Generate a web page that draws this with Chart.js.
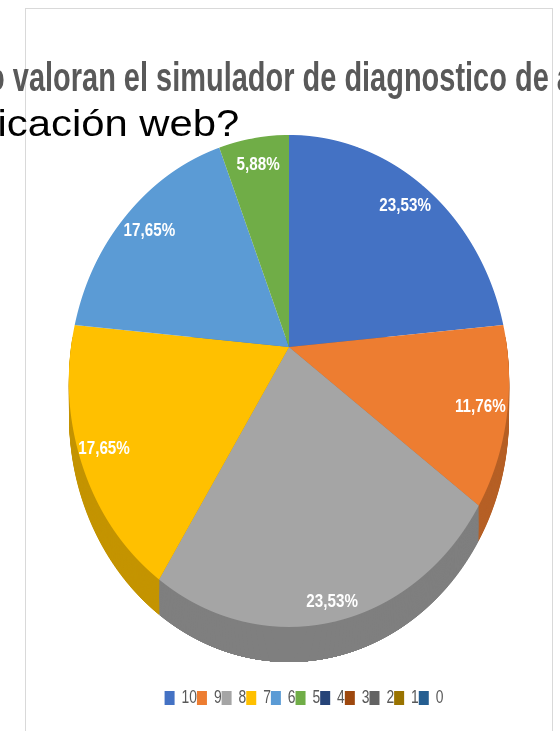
<!DOCTYPE html>
<html lang="es">
<head>
<meta charset="utf-8">
<title>Valoración del simulador</title>
<script src="https://cdn.jsdelivr.net/npm/chart.js@4.4.1/dist/chart.umd.min.js"></script>
<style>
  html, body { margin: 0; padding: 0; background: #fff; }
  body { width: 560px; height: 731px; position: relative; overflow: hidden; }
  #frame { position: absolute; left: 25px; top: 8px; width: 526px; height: 800px; border: 1px solid #d9d9d9; }
  #chart { position: absolute; left: 0; top: 0; }
  .t1 { position: absolute; top: 57px; left: 0; white-space: nowrap; color: #595959;
        font: bold 40px/40px "Liberation Sans", Arial, sans-serif;
        transform-origin: 0 0; }
  .t2 { position: absolute; top: 105px; right: 321px; white-space: nowrap; color: #000;
        font: 37px/38px "Liberation Sans", Arial, sans-serif;
        transform-origin: 100% 0; transform: scaleX(1.13); }
</style>
</head>
<body>
<div id="frame"></div>
<canvas id="chart" width="560" height="731"></canvas>
<div class="t1" id="title1"><span id="title1pre">¿Cómo </span><span id="title1main">valoran el simulador de diagnostico de </span>a</div>
<div class="t2">aplicación web?</div>
<script>
// Datos del gráfico
const categories = ['10', '9', '8', '7', '6', '5', '4', '3', '2', '1', '0'];
const shares = [23.53, 11.76, 23.53, 17.65, 17.65, 5.88, 0, 0, 0, 0, 0];
const sliceColors = ['#4472C4', '#ED7D31', '#A5A5A5', '#FFC000', '#5B9BD5', '#70AD47',
                     '#264478', '#9E480E', '#636363', '#997300', '#255E91'];

// Vista 3D: disco inclinado con perspectiva (X = a·u/(1-k·v), Y = b·v/(1-k·v))
const view = { cx: 289, cy: 347, a: 218, b: 241.3, k: 0.138, depth: 36 };
const legendSqueeze = 0.77; // el original usa una fuente estrecha

function darken(hex, f) {
  const n = parseInt(hex.slice(1), 16);
  const r = Math.round(((n >> 16) & 255) * f);
  const g = Math.round(((n >> 8) & 255) * f);
  const b = Math.round((n & 255) * f);
  return `rgb(${r},${g},${b})`;
}

function rowToV(Y) {
  return Y / (view.b + view.k * Y);
}

// Dibuja una franja horizontal de 1px del pastel; con "extrude" la franja se alarga hacia abajo (pared)
function drawStrip(chart, arcs, Y, extrude) {
  const ctx = chart.ctx;
  const first = arcs[0];
  const r0 = first.outerRadius;
  const v0 = rowToV(Y);
  const w = 1 - view.k * v0;
  const sx = view.a / w;
  let sy = view.b / (w * w);
  let h = 1;
  if (extrude) { h = view.depth + 1; sy *= h; }
  ctx.save();
  ctx.beginPath();
  ctx.rect(0, view.cy + Y, chart.width, h);
  ctx.clip();
  ctx.translate(view.cx, view.cy + Y);
  ctx.scale(sx / r0, sy / r0);
  ctx.translate(-first.x, -(first.y + v0 * r0));
  arcs.forEach((arc, i) => {
    if (!shares[i]) return;
    if (extrude) {
      const proxy = Object.create(arc);
      proxy.options = Object.assign({}, arc.options, { backgroundColor: darken(sliceColors[i], 0.77) });
      arc.draw.call(proxy, ctx);
    } else {
      arc.draw(ctx);
    }
  });
  ctx.restore();
}

const pie3d = {
  id: 'pie3d',
  afterLayout(chart) {
    // Leyenda comprimida horizontalmente
    const legend = chart.legend;
    if (!legend || legend._squeezed) return;
    const orig = legend.draw;
    legend.draw = function () {
      const c = chart.ctx;
      const mid = (this.left + this.right) / 2;
      c.save();
      c.translate(mid, 0);
      c.scale(legendSqueeze, 1);
      c.translate(-mid, 0);
      orig.apply(this, arguments);
      c.restore();
    };
    legend._squeezed = true;
  },
  beforeDatasetsDraw(chart) {
    const arcs = chart.getDatasetMeta(0).data;
    if (!arcs.length) return;
    const top = Math.floor(-view.b / (1 + view.k)) - 1;
    const bottom = Math.ceil(view.b / (1 - view.k)) + 1;
    // Pared lateral
    for (let Y = -10; Y <= bottom; Y++) drawStrip(chart, arcs, Y, true);
    // Cara superior
    for (let Y = top; Y <= bottom; Y++) drawStrip(chart, arcs, Y, false);

    // Etiquetas de porcentaje
    const ctx = chart.ctx;
    ctx.save();
    ctx.fillStyle = '#ffffff';
    ctx.font = 'bold 19px "Liberation Sans", Arial, sans-serif';
    ctx.textAlign = 'center';
    ctx.textBaseline = 'middle';
    arcs.forEach((arc, i) => {
      if (!shares[i]) return;
      const mid = (arc.startAngle + arc.endAngle) / 2;
      const f = 0.86 + 0.08 * Math.max(0, Math.sin(mid));
      const u = Math.cos(mid) * f;
      const v = Math.sin(mid) * f;
      const w = 1 - view.k * v;
      const x = view.cx + view.a * u / w;
      const y = view.cy + view.b * v / w;
      ctx.save();
      ctx.translate(x, y);
      ctx.scale(0.8, 1);
      ctx.fillText(shares[i].toFixed(2).replace('.', ',') + '%', 0, 0);
      ctx.restore();
    });
    ctx.restore();
    return false;
  }
};

const ctx = document.getElementById('chart').getContext('2d');
new Chart(ctx, {
  type: 'pie',
  data: {
    labels: categories,
    datasets: [{ data: shares, backgroundColor: sliceColors, borderWidth: 0 }]
  },
  options: {
    responsive: false,
    animation: false,
    devicePixelRatio: 1,
    layout: { padding: { left: 48, right: 0, top: 150, bottom: 14 } },
    plugins: {
      legend: {
        position: 'bottom',
        labels: {
          boxWidth: 13,
          boxHeight: 14,
          padding: 0,
          color: '#595959',
          font: { family: '"Liberation Sans", Arial, sans-serif', size: 18 }
        }
      },
      tooltip: { enabled: false }
    }
  },
  plugins: [pie3d]
});

// Título recortado a la izquierda como en el original
function placeTitle() {
  const t = document.getElementById('title1');
  t.style.transform = 'none';
  const pre = document.getElementById('title1pre').getBoundingClientRect().width;
  const main = document.getElementById('title1main').getBoundingClientRect().width;
  const s = 544 / main;
  t.style.transform = 'scaleX(' + s + ')';
  t.style.left = (13 - pre * s) + 'px';
}
placeTitle();
if (document.fonts) document.fonts.ready.then(placeTitle);
</script>
</body>
</html>
